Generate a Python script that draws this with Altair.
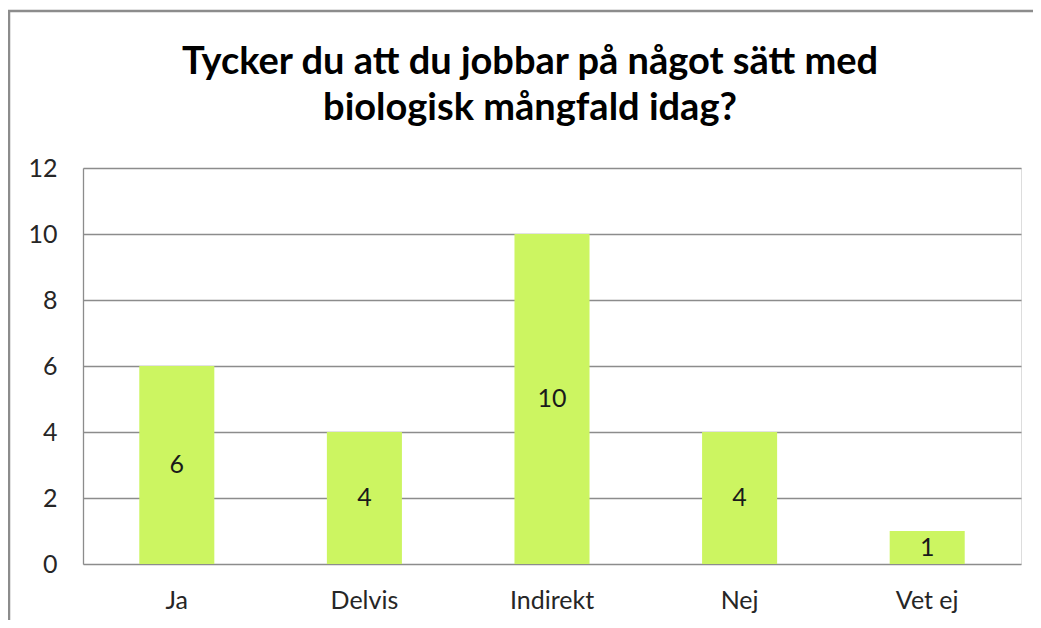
import altair as alt
import pandas as pd

categories = ["Ja", "Delvis", "Indirekt", "Nej", "Vet ej"]
values = [6, 4, 10, 4, 1]
y_ticks = [0, 2, 4, 6, 8, 10, 12]
title_lines = ["Tycker du att du jobbar på något sätt med", "biologisk mångfald idag?"]

df = pd.DataFrame({"kategori": categories, "antal": values})

FONT = "Lato"
BAR = "#CCF561"
GRID = "#8C8C8C"

W, H = 938, 396

x_enc = alt.X(
    "kategori:N",
    sort=categories,
    scale=alt.Scale(paddingInner=0.6, paddingOuter=0.3),
    axis=alt.Axis(
        title=None, labelAngle=0, labelFontSize=25, labelFont=FONT,
        labelColor="#262626", labelPadding=24, ticks=False, domain=False,
        grid=False,
    ),
)
y_enc = alt.Y(
    "antal:Q",
    scale=alt.Scale(domain=[0, 12], nice=False),
    axis=alt.Axis(
        title=None, values=y_ticks, labelFontSize=25, labelFont=FONT,
        labelColor="#262626", labelPadding=26, ticks=False,
        domain=True, domainColor=GRID, domainWidth=1.3,
        grid=True, gridColor=GRID, gridWidth=1.3,
    ),
)

bars = alt.Chart(df).mark_bar(color=BAR).encode(x=x_enc, y=y_enc)

labels = alt.Chart(df).mark_text(
    font=FONT, fontSize=25, color="#1a1a1a", baseline="middle", align="center"
).encode(
    x=alt.X("kategori:N", sort=categories),
    y=alt.Y("mid:Q"),
    text=alt.Text("antal:Q"),
).transform_calculate(mid="datum.antal / 2")

frame_df = pd.DataFrame({"k": [0]})
frame = alt.Chart(frame_df).mark_rect(
    fill=None, stroke="#8C8C8C", strokeWidth=2.5
).encode(
    x=alt.value(-74), x2=alt.value(990),
    y=alt.value(-157), y2=alt.value(480),
)

chart = alt.layer(frame, bars, labels).properties(
    width=W, height=H,
    padding={"left": 75, "top": 160, "right": 12, "bottom": 56},
    autosize=alt.AutoSizeParams(type="none"),
    title=alt.TitleParams(
        text=title_lines, font=FONT, fontSize=38, fontWeight="bold",
        color="#000000", anchor="middle", dx=-22, offset=-118, lineHeight=46,
    ),
).configure_view(stroke=None).configure(background="white")

chart.save("out.html", embed_options={"renderer": "svg", "actions": False})
